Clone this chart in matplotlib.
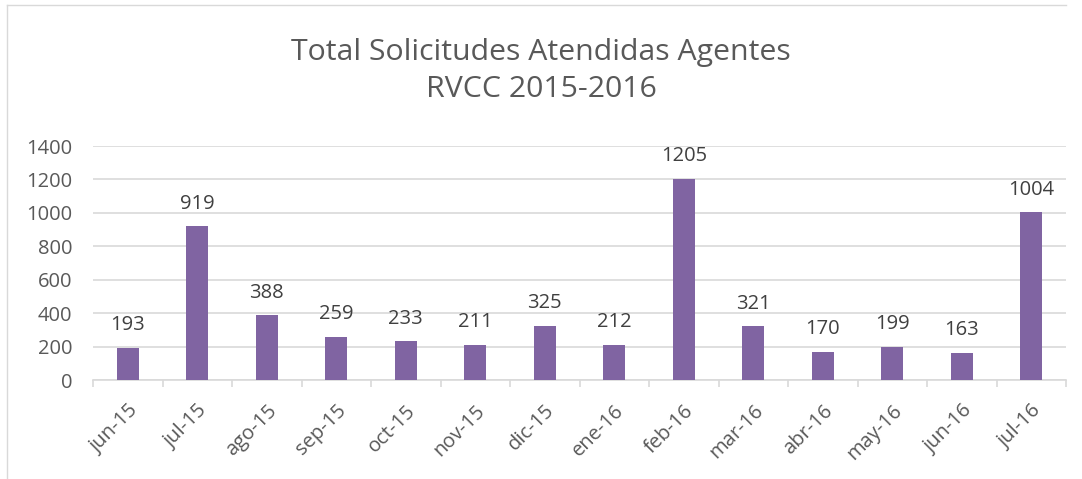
import matplotlib.pyplot as plt
from matplotlib.lines import Line2D
import numpy as np

# data
meses = ["jun-15", "jul-15", "ago-15", "sep-15", "oct-15", "nov-15", "dic-15",
         "ene-16", "feb-16", "mar-16", "abr-16", "may-16", "jun-16", "jul-16"]
solicitudes = [193, 919, 388, 259, 233, 211, 325, 212, 1205, 321, 170, 199, 163, 1004]

BAR_COLOR = "#8064A2"
TEXT_COLOR = "#595959"
GRID_COLOR = "#D9D9D9"

plt.rcParams["font.family"] = ["Open Sans", "DejaVu Sans"]

fig = plt.figure(figsize=(10.82, 4.79), dpi=100)
ax = fig.add_axes([93 / 1082, 1 - 380 / 479, (1066 - 93) / 1082, (380 - 146) / 479])

x = np.arange(len(meses))
bars = ax.bar(x, solicitudes, width=0.32, color=BAR_COLOR, zorder=3)

for xi, v in zip(x, solicitudes):
    ax.annotate(str(v), (xi, v), xytext=(0, 9), textcoords="offset points",
                ha="center", va="bottom", fontsize=14.5, color="#404040")

ax.set_xlim(-0.5, len(meses) - 0.5)
ax.set_ylim(0, 1400)
ax.set_yticks(np.arange(0, 1401, 200))
ax.yaxis.grid(True, color=GRID_COLOR, linewidth=1.2, zorder=0)
ax.tick_params(axis="y", length=0, labelsize=14.5, labelcolor=TEXT_COLOR, pad=15)

ax.set_xticks(x)
ax.set_xticklabels(meses, rotation=45, ha="right", rotation_mode="anchor")
ax.tick_params(axis="x", length=0, labelsize=14.5, labelcolor=TEXT_COLOR, pad=15)
# boundary tick marks between categories
ax.set_xticks(np.arange(-0.5, len(meses), 1), minor=True)
ax.tick_params(axis="x", which="minor", length=5, color=GRID_COLOR, width=1.2)

for s in ["top", "right", "left"]:
    ax.spines[s].set_visible(False)
ax.spines["bottom"].set_color(GRID_COLOR)
ax.spines["bottom"].set_linewidth(1.2)

fig.text(541 / 1082, 1 - 71 / 479, "Total Solicitudes Atendidas Agentes\nRVCC 2015-2016",
         ha="center", va="center", fontsize=21.8, color=TEXT_COLOR, linespacing=1.35)

# chart frame (left and top edges visible)
fig.add_artist(Line2D([7 / 1082, 7 / 1082], [0, 1 - 5 / 479], transform=fig.transFigure,
                      color=GRID_COLOR, linewidth=1))
fig.add_artist(Line2D([7 / 1082, 1066 / 1082], [1 - 5 / 479, 1 - 5 / 479], transform=fig.transFigure,
                      color=GRID_COLOR, linewidth=1))

fig.savefig("out.png", dpi=100)
